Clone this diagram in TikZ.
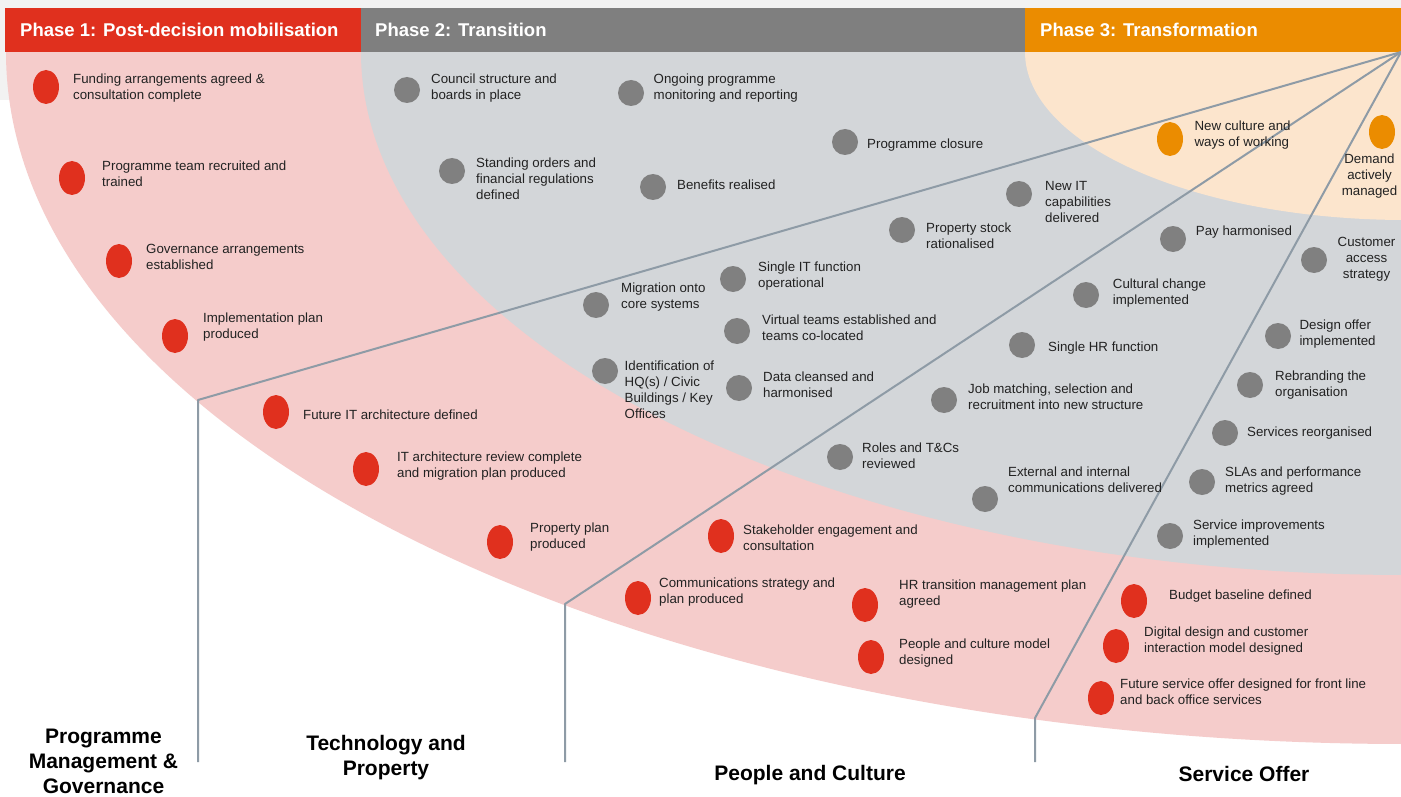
\documentclass[tikz,border=0pt]{standalone}
\usepackage{fontspec}
\setmainfont{Liberation Sans}
\usetikzlibrary{shapes.geometric}
\definecolor{pwcred}{HTML}{E0301E}
\definecolor{pinkbg}{HTML}{F5CCCB}
\definecolor{greyhead}{HTML}{7F7F7F}
\definecolor{greybg}{HTML}{D3D6D9}
\definecolor{greydot}{HTML}{808080}
\definecolor{pwcorange}{HTML}{EB8C00}
\definecolor{orangebg}{HTML}{FCE5CD}
\definecolor{fanline}{HTML}{8E9BA6}
\definecolor{topband}{HTML}{F2F2F2}
\definecolor{itemtext}{HTML}{222222}
\begin{document}
\begin{tikzpicture}[x=1pt,y=-1pt,
  reddot/.style={ellipse, fill=pwcred, minimum width=26pt, minimum height=34pt, inner sep=0pt},
  orangedot/.style={ellipse, fill=pwcorange, minimum width=26pt, minimum height=34pt, inner sep=0pt},
  greydotst/.style={circle, fill=greydot, minimum size=26pt, inner sep=0pt},
  item/.style={anchor=west, inner sep=0pt, yshift=-3pt, align=left, text=itemtext, font=\fontsize{13.3}{16}\selectfont, execute at begin node=\strut, execute at end node=\strut},
  citem/.style={item, anchor=center, align=center},
  phasehead/.style={anchor=west, inner sep=0pt, text=white, font=\fontsize{18.5}{22}\selectfont\bfseries},
  categorybase/.style={align=center, inner sep=0pt, text=black, font=\fontsize{21}{25}\selectfont\bfseries, execute at begin node=\strut},
  category/.style={categorybase, execute at end node=\strut},
  fan/.style={draw=fanline, line width=2pt, line join=round}
]
\useasboundingbox (0,0) rectangle (1401,797);
\fill[white] (0,0) rectangle (1401,797);
\fill[topband] (0,0) rectangle (1401,100);

% phase regions
\begin{scope}
  \clip (0,52) rectangle (1401,797);
  \fill[pinkbg] (1406,52) ellipse [x radius=1400pt, y radius=692pt];
  \fill[greybg] (1406,52) ellipse [x radius=1045pt, y radius=523pt];
  \fill[orangebg] (1406,52) ellipse [x radius=381pt, y radius=168pt];
\end{scope}

% header
\fill[pwcred] (5,8) rectangle (361,52);
\fill[greyhead] (361,8) rectangle (1025,52);
\fill[pwcorange] (1025,8) rectangle (1401,52);
\node[phasehead] (h1) at (20,30) {Phase 1: Post-decision mobilisation};
\node[phasehead] (h2) at (375,30) {Phase 2: Transition};
\node[phasehead] (h3) at (1040,30) {Phase 3: Transformation};

% fan lines
\coordinate (apex) at (1401,52);
\coordinate (b1) at (198,400);
\coordinate (e1) at (198,762);
\coordinate (b2) at (565,604);
\coordinate (e2) at (565,762);
\coordinate (b3) at (1035,718);
\coordinate (e3) at (1035,762);
\draw[fan] (apex) -- (b1) -- (e1);
\draw[fan] (apex) -- (b2) -- (e2);
\draw[fan] (apex) -- (b3) -- (e3);

% Phase 1 items (red)
\node[reddot] (d1) at (46,87) {};
\node[item] (t1) at (73,86.5) {Funding arrangements agreed \&\\consultation complete};
\node[reddot] (d2) at (72,178) {};
\node[item] (t2) at (102,173) {Programme team recruited and\\trained};
\node[reddot] (d3) at (119,261) {};
\node[item] (t3) at (146,256) {Governance arrangements\\established};
\node[reddot] (d4) at (175,336) {};
\node[item] (t4) at (203,325) {Implementation plan\\produced};
\node[reddot] (d5) at (276,412) {};
\node[item] (t5) at (303,413) {Future IT architecture defined};
\node[reddot] (d6) at (366,469) {};
\node[item] (t6) at (397,464.5) {IT architecture review complete\\and migration plan produced};
\node[reddot] (d7) at (500,542) {};
\node[item] (t7) at (530,535.3) {Property plan\\produced};
\node[reddot] (d8) at (721,536) {};
\node[item] (t8) at (743,537.3) {Stakeholder engagement and\\consultation};
\node[reddot] (d9) at (638,598) {};
\node[item] (t9) at (659,590.3) {Communications strategy and\\plan produced};
\node[reddot] (d10) at (865,605) {};
\node[item] (t10) at (899,592.3) {HR transition management plan\\agreed};
\node[reddot] (d11) at (871,657) {};
\node[item] (t11) at (899,651.3) {People and culture model\\designed};
\node[reddot] (d12) at (1134,601) {};
\node[item] (t12) at (1169,593.3) {Budget baseline defined};
\node[reddot] (d13) at (1116,646) {};
\node[item] (t13) at (1144,638.7) {Digital design and customer\\interaction model designed};
\node[reddot] (d14) at (1101,698) {};
\node[item] (t14) at (1120,691.2) {Future service offer designed for front line\\and back office services};

% Phase 2 items (grey)
\node[greydotst] (d15) at (407,90) {};
\node[item] (t15) at (431,86.2) {Council structure and\\boards in place};
\node[greydotst] (d16) at (631,93) {};
\node[item] (t16) at (653.5,86.2) {Ongoing programme\\monitoring and reporting};
\node[greydotst] (d17) at (845,142) {};
\node[item] (t17) at (867,142) {Programme closure};
\node[greydotst] (d18) at (452,171) {};
\node[item] (t18) at (476,178.3) {Standing orders and\\financial regulations\\defined};
\node[greydotst] (d19) at (653,187) {};
\node[item] (t19) at (677,183.3) {Benefits realised};
\node[greydotst] (d20) at (1019,194) {};
\node[item] (t20) at (1045,201.6) {New IT\\capabilities\\delivered};
\node[greydotst] (d21) at (902,230) {};
\node[item] (t21) at (926,235) {Property stock\\rationalised};
\node[greydotst] (d22) at (733,279) {};
\node[item] (t22) at (758,274) {Single IT function\\operational};
\node[greydotst] (d23) at (596,305) {};
\node[item] (t23) at (621,295.3) {Migration onto\\core systems};
\node[greydotst] (d24) at (737,331) {};
\node[item] (t24) at (762,327) {Virtual teams established and\\teams co-located};
\node[greydotst] (d25) at (605,371) {};
\node[item] (t25) at (624.5,389.2) {Identification of\\HQ(s) / Civic\\Buildings / Key\\Offices};
\node[greydotst] (d26) at (739,388) {};
\node[item] (t26) at (763,384) {Data cleansed and\\harmonised};
\node[greydotst] (d27) at (1173,239) {};
\node[item] (t27) at (1195.7,229.3) {Pay harmonised};
\node[greydotst] (d28) at (1086,295) {};
\node[item] (t28) at (1112.7,291.2) {Cultural change\\implemented};
\node[greydotst] (d29) at (1022,345) {};
\node[item] (t29) at (1048,345) {Single HR function};
\node[greydotst] (d30) at (944,400) {};
\node[item] (t30) at (968,396) {Job matching, selection and\\recruitment into new structure};
\node[greydotst] (d31) at (840,457) {};
\node[item] (t31) at (862,455.3) {Roles and T\&Cs\\reviewed};
\node[greydotst] (d32) at (985,499) {};
\node[item] (t32) at (1008,478.7) {External and internal\\communications delivered};
\node[greydotst] (d33) at (1314,260) {};
\node[citem] (t33) at (1366.5,257.3) {Customer\\access\\strategy};
\node[greydotst] (d34) at (1278,336) {};
\node[item] (t34) at (1299.3,332.2) {Design offer\\implemented};
\node[greydotst] (d35) at (1250,385) {};
\node[item] (t35) at (1275,383.5) {Rebranding the\\organisation};
\node[greydotst] (d36) at (1225,433) {};
\node[item] (t36) at (1247,430) {Services reorganised};
\node[greydotst] (d37) at (1202,482) {};
\node[item] (t37) at (1225,479.5) {SLAs and performance\\metrics agreed};
\node[greydotst] (d38) at (1170,536) {};
\node[item] (t38) at (1193,532) {Service improvements\\implemented};

% Phase 3 items (orange)
\node[orangedot] (d39) at (1170,139) {};
\node[item] (t39) at (1194.3,133.3) {New culture and\\ways of working};
\node[orangedot] (d40) at (1382,132) {};
\node[citem] (t40) at (1369.5,174.3) {Demand\\actively\\managed};

% workstream labels
\node[categorybase] (c1) at (103.5,765) {Programme\\Management \&\\Governance};
\node[category] (c2) at (386,759.5) {Technology and\\Property};
\node[category] (c3) at (810,775) {People and Culture};
\node[category] (c4) at (1244,776) {Service Offer};
\end{tikzpicture}
\end{document}
